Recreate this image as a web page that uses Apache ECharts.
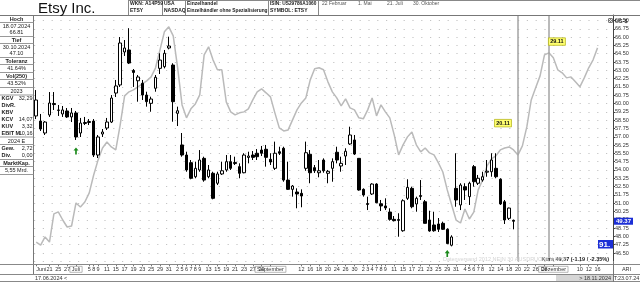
<!DOCTYPE html>
<html><head><meta charset="utf-8">
<script src="https://cdn.jsdelivr.net/npm/echarts@6/dist/echarts.min.js"></script>
<style>html,body{margin:0;padding:0;background:#fff}#c{width:640px;height:282px}</style>
</head><body><div id="c"></div>
<script>
// ---------- DATA ----------
const dates = [
 '17.06','18.06','20.06','21.06','24.06','25.06','26.06','27.06','28.06',
 '01.07','02.07','03.07','05.07','08.07','09.07','10.07','11.07','12.07','15.07','16.07','17.07','18.07','19.07','22.07','23.07','24.07','25.07','26.07','29.07','30.07','31.07',
 '01.08','02.08','05.08','06.08','07.08','08.08','09.08','12.08','13.08','14.08','15.08','16.08','19.08','20.08','21.08','22.08','23.08','26.08','27.08','28.08','29.08','30.08',
 '03.09','04.09','05.09','06.09','09.09','10.09','11.09','12.09','13.09','16.09','17.09','18.09','19.09','20.09','23.09','24.09','25.09','26.09','27.09','30.09',
 '01.10','02.10','03.10','04.10','07.10','08.10','09.10','10.10','11.10','14.10','15.10','16.10','17.10','18.10','21.10','22.10','23.10','24.10','25.10','28.10','29.10','30.10','31.10',
 '01.11','04.11','05.11','06.11','07.11','08.11','11.11','12.11','13.11','14.11','15.11','18.11','19.11',
 '20.11','21.11','22.11','25.11','26.11','27.11','28.11','29.11',
 '02.12','03.12','04.12','05.12','06.12','09.12','10.12','11.12','12.12','13.12','16.12','17.12','18.12','19.12'
];
const opens = [58.88,58.42,57.34,58.97,60.00,59.38,59.06,59.33,58.79,59.15,57.34,58.20,58.29,58.42,55.35,57.25,57.79,58.33,60.95,61.68,
 64.66,64.84,62.99,62.06,61.83,60.77,60.02,61.38,63.18,63.33,65.02,63.48,59.12,56.26,55.35,54.66,53.39,54.00,55.05,53.39,
 53.70,52.80,53.64,54.00,54.75,54.58,54.30,53.75,55.13,55.35,55.51,55.80,55.87,54.96,54.15,55.65,55.96,53.09,52.25,52.01,
 51.89,54.15,55.42,54.21,53.75,54.90,53.70,54.15,55.60,54.36,55.26,56.35,56.71,55.05,52.25,50.88,51.83,52.73,50.95,50.75,
 50.20,49.54,49.44,48.51,51.44,52.34,50.93,51.60,51.13,49.48,49.03,49.12,49.18,48.64,47.20,52.34,50.84,52.49,51.59,54.30,
 52.80,53.09,53.80,53.84,54.15,53.16,51.13,49.63,49.45];
const closes = [60.32,57.70,58.33,60.05,59.91,59.42,59.42,58.79,59.15,56.98,58.24,58.29,58.38,55.35,56.98,57.43,58.33,60.50,61.59,65.47,
 65.02,63.66,62.81,62.40,60.77,60.17,60.41,62.37,63.93,64.54,65.20,60.17,59.35,55.35,54.00,53.25,54.15,54.90,53.09,54.00,
 51.44,53.64,53.93,54.75,54.15,54.68,53.70,55.35,55.26,55.14,55.20,55.51,55.14,54.72,55.51,55.51,53.09,52.25,52.55,51.83,
 51.65,55.56,53.75,53.93,53.93,53.93,53.88,54.75,54.90,54.60,55.69,57.16,55.44,52.19,51.74,50.97,52.73,51.04,50.75,50.57,
 49.54,49.42,49.53,51.22,52.43,50.68,51.44,51.69,49.18,48.49,48.51,48.64,48.64,47.35,47.95,51.29,52.64,52.19,52.80,52.94,
 53.25,53.39,53.89,54.90,53.39,50.93,49.48,50.56,49.37];
const lows = [58.60,57.52,57.16,58.79,59.42,58.88,58.79,58.70,58.33,56.71,56.98,58.06,58.06,55.17,55.08,56.98,57.61,58.24,60.59,61.50,
 64.30,63.57,61.50,60.17,60.32,59.72,59.26,61.07,62.67,63.18,64.90,58.36,57.97,55.20,53.84,53.16,53.25,53.84,52.94,53.25,
 51.35,52.64,53.55,53.84,54.00,54.45,53.25,53.70,54.60,54.90,54.90,55.26,54.30,54.45,54.00,55.35,52.94,52.19,51.59,50.54,
 50.63,53.93,52.80,53.73,53.34,53.75,52.80,52.94,54.60,53.84,54.45,56.26,55.35,52.13,51.59,50.38,51.74,50.99,50.29,50.38,
 49.42,49.35,47.97,48.42,51.29,50.54,50.23,51.29,49.18,48.42,48.42,48.40,48.58,47.30,47.10,50.68,50.38,51.29,50.84,52.49,
 52.64,52.94,53.39,53.39,53.25,50.84,49.12,49.48,48.64];
const highs = [61.22,59.06,58.42,61.04,61.04,59.87,59.78,59.60,59.60,59.33,58.70,58.79,58.60,58.60,57.16,57.70,58.70,60.77,62.13,66.01,
 65.74,66.81,63.12,62.58,62.13,61.07,60.62,62.58,64.54,64.84,66.04,63.64,59.72,57.34,55.65,54.90,54.75,55.80,55.20,54.45,
 53.84,53.84,54.75,55.35,55.35,55.20,54.60,55.51,55.65,55.71,55.89,56.17,56.26,55.51,56.56,56.10,56.10,54.75,52.64,52.34,
 52.25,56.56,55.80,54.45,54.90,55.05,54.00,55.05,56.10,55.20,55.96,57.91,57.16,55.05,52.34,51.59,52.80,52.80,51.29,51.44,
 50.54,49.84,50.09,51.35,53.16,52.49,51.59,53.09,51.29,50.32,50.23,49.66,49.33,48.73,48.10,55.51,52.80,52.80,52.94,54.45,
 53.55,53.84,54.90,55.51,55.51,53.25,51.29,50.60,49.52];
const seasonal = [47.49,47.22,47.95,47.49,50.03,50.21,49.48,48.85,48.94,51.02,50.66,51.11,51.93,53.55,54.91,55.99,56.53,56.08,55.81,58.07,
 60.69,61.06,61.24,61.51,61.78,62.05,62.41,63.23,64.85,66.48,66.93,66.12,63.23,59.88,58.71,59.52,59.97,60.79,64.40,65.13,
 63.95,63.05,63.05,60.15,59.25,58.98,59.16,59.25,59.52,60.33,61.06,61.33,60.97,60.60,59.16,57.80,57.53,57.62,58.53,59.43,
 60.06,60.51,62.14,63.14,63.23,63.05,61.96,61.06,60.51,59.79,60.42,59.61,59.43,58.71,58.62,59.43,60.51,58.89,59.88,59.25,
 58.71,57.17,55.36,56.27,56.99,57.44,56.27,55.63,55.99,55.54,55.36,54.64,53.82,52.20,50.84,49.48,49.21,50.47,49.57,50.20,
 52.20,53.10,54.37,55.00,55.27,55.81,55.99,56.08,55.81,55.36,56.17,57.89,60.33,61.42,62.50,64.40,64.58,64.13,63.05,62.78,
 62.32,62.41,61.96,61.51,62.32,63.23,63.95,65.03];
const tickDates = ['17.06','21.06','25.06','27.06','01.07','05.07','08.07','09.07','11.07','15.07','17.07','19.07','23.07','25.07','29.07','31.07',
 '02.08','05.08','06.08','07.08','08.08','09.08','13.08','15.08','19.08','21.08','23.08','27.08','29.08','03.09','12.09','16.09','18.09','20.09',
 '24.09','26.09','30.09','02.10','03.10','04.10','07.10','08.10','09.10','11.10','15.10','17.10','21.10','23.10','25.10','29.10','31.10',
 '04.11','05.11','06.11','07.11','08.11','12.11','14.11','18.11','20.11','22.11','26.11','28.11','02.12','10.12','12.12','16.12'];
const tickTexts = ['Juni','21','25','27','Juli','5','8','9','11','15','17','19','23','25','29','31',
 '2','5','6','7','8','9','13','15','19','21','23','27','29','September','12','16','18','20',
 '24','26','30','2','3','4','7','8','9','11','15','17','21','23','25','29','31',
 '4','5','6','7','8','12','14','18','20','22','26','28','Dezember','10','12','16'];
const markerDates = ['20.11','29.11'];
const markerPrices = [58.23, 65.60];
const arrowDates = ['01.07','29.10'];
const arrowPrices = [55.72, 46.45];
const lastPrice = 49.37;

// ---------- CHART ----------
const FF = 'Liberation Sans, Arial, sans-serif';
const chart = echarts.init(document.getElementById('c'), null, {renderer:'canvas'});
const candleData = opens.map((o,i)=>[o, closes[i], lows[i], highs[i]]);
const xData = dates.map((d,i)=> i===0 ? {value:d, textStyle:{align:'left'}} : d);

function txt(x,y,text,o){o=o||{};return {type:'text',x:x,y:y,z:100,style:{text:text,fontSize:o.fs||5.5,fontFamily:FF,fontWeight:o.fw||'normal',fill:o.c||'#222',align:o.a||'left',verticalAlign:'middle'}};}
function ln(x1,y1,x2,y2,c,w){return {type:'line',z:90,shape:{x1:x1,y1:y1,x2:x2,y2:y2},style:{stroke:c||'#777',lineWidth:w||1}};}
function rc(x,y,w,h,f,s){return {type:'rect',z:80,shape:{x:x,y:y,width:w,height:h},style:{fill:f||'none',stroke:s||null,lineWidth:s?1:0}};}

const g = [];
// title + header
g.push(txt(38,8.5,'Etsy Inc.',{fs:15,c:'#111'}));
g.push(ln(128,0.5,640,0.5,'#888'));
[128.5,162.5,185.5,268.5,318.5].forEach(x=>g.push(ln(x,0,x,15,'#888')));
g.push(ln(0,15.5,640,15.5,'#777'));
const hb={fs:5,fw:'bold'};
g.push(txt(130,4,'WKN: A14P59',hb),txt(130,10.5,'ETSY',hb),txt(164,4,'USA',hb),txt(164,10.5,'NASDAQ',hb),
 txt(187,4,'Einzelhandel',hb),txt(187,10.5,'Einzelhändler ohne Spezialisierung',{fs:4.8,fw:'bold'}),
 txt(270,4,'ISIN: US29786A1060',{fs:4.8,fw:'bold'}),txt(270,10.5,'SYMBOL: ETSY',hb));
g.push(txt(322,4,'22 Februar',{fs:5,c:'#555'}),txt(358,4,'1. Mai',{fs:5,c:'#555'}),txt(387,4,'21. Juli',{fs:5,c:'#555'}),txt(413,4,'30. Oktober',{fs:5,c:'#555'}));
// left panel
g.push(ln(33.5,15,33.5,274,'#777'));
[22.5,36.5,43.5,57.5,64.5,72.5,79.5,87.5,95,137,144.5,159.5,166.5,174.5].forEach(y=>g.push(ln(0,y,33.5,y,'#999')));
const cb={a:'center',fw:'bold'};
g.push(txt(16.5,19,'Hoch',cb),txt(16.5,26,'18.07.2024',{a:'center'}),txt(16.5,32.5,'66.81',{a:'center'}),
 txt(16.5,40,'Tief',cb),txt(16.5,47,'30.10.2024',{a:'center'}),txt(16.5,53.5,'47.10',{a:'center'}),
 txt(16.5,61,'Toleranz',cb),txt(16.5,68.5,'41.64%',{a:'center'}),
 txt(16.5,76,'Vol(250)',cb),txt(16.5,83.5,'43.52%',{a:'center'}),
 txt(16.5,91.5,'2023',{a:'center'}));
const rows=[['KGV','32,29',98.5],['DivR.','',105.5],['KBV','',112.5],['KCV','14,07',119.5],['KUV','3,32',126.5],['EBIT M.','10,16',133]];
rows.forEach(r=>{g.push(txt(1.5,r[2],r[0],{fw:'bold'}));if(r[1])g.push(txt(32.5,r[2],r[1],{a:'right'}));});
g.push(txt(16.5,141,'2024 E',{a:'center'}));
[['Gew.','2,72',148.5],['Div.','0,00',155.5]].forEach(r=>{g.push(txt(1.5,r[2],r[0],{fw:'bold'}),txt(32.5,r[2],r[1],{a:'right'}));});
g.push(txt(16.5,163,'MarktKap.',cb),txt(16.5,170.5,'5,55 Mrd.',{a:'center'}));
// right top
g.push(rc(608,18,5,5,'#777'),ln(608.5,18.5,612.5,22.5,'#eee'),ln(612.5,18.5,608.5,22.5,'#eee'));
g.push(txt(615,21,'US-$',{fw:'bold'}));
// bottom area
g.push(ln(0,264.5,640,264.5,'#888'),ln(0,274.5,640,274.5,'#888'),ln(0,281.5,640,281.5,'#888'));
g.push(ln(613.5,262,613.5,282,'#777'));
g.push(txt(35,278,'17.06.2024 <',{c:'#333'}));
g.push(rc(556,275,57,6,'#d6d6d6'),txt(611,278,'> 18.11.2024',{a:'right',c:'#333'}));
g.push(txt(626.5,269.5,'ARI',{a:'center',c:'#333'}),txt(626.5,278,'T:23.07.24',{a:'center',c:'#333'}));
g.push(txt(609,259.5,'Kurs 49.37 (-1.19 / -2.35%)',{a:'right',fw:'bold'}));
g.push(txt(443,259.5,'Datenversand 2012 NEIN 30 AUSDRUCKEN 8733',{c:'#d4d4d4'}));
g.push(rc(598,240,15,8.5,'#1c2fd6'),txt(599,244.5,'91.',{fs:8,fw:'bold',c:'#fff'}));

const option = {
 animation:false,
 textStyle:{fontFamily:FF},
 grid:{left:34,right:27,top:15,bottom:20.7,show:false},
 xAxis:{type:'category',data:xData,boundaryGap:true,offset:3,
  axisLine:{show:false},
  axisTick:{show:true,alignWithLabel:true,length:2,interval:(i,v)=>tickDates.indexOf(v)>=0,lineStyle:{color:'#777'}},
  axisLabel:{interval:(i,v)=>tickDates.indexOf(v)>=0,fontSize:5.5,color:'#333',margin:2,hideOverlap:false,showMinLabel:true,
   formatter:(v,i)=>{const k=tickDates.indexOf(v);if(k<0)return '';const t=tickTexts[k];
     if(k===0)return t;
     return /^[A-Z]/.test(t)?'{m|'+t+'}':t;},
   rich:{m:{fontSize:5.5,color:'#333',borderColor:'#888',borderWidth:0.6,padding:[0,2,0,2]}}},
  splitLine:{show:false}},
 yAxis:{type:'value',position:'right',min:45.75,max:68,interval:0.75,
  axisLine:{show:true,lineStyle:{color:'#444',width:1}},
  axisTick:{show:true,length:2,lineStyle:{color:'#444'}},
  axisLabel:{fontSize:5.5,color:'#333',margin:2,showMinLabel:false,showMaxLabel:false,formatter:v=>v.toFixed(2)},
  splitLine:{show:true,lineStyle:{color:'#c4c4c4',width:1,type:[1.2,7.6]}}},
 series:[
  {type:'line',data:seasonal,symbol:'none',z:1,lineStyle:{color:'#bababa',width:1.5},
   markLine:{silent:true,symbol:'none',label:{show:false},lineStyle:{color:'#a3a3a3',width:1.5,type:'solid'},
    data:markerDates.map(d=>({xAxis:d}))},
   markPoint:{silent:true,symbol:'rect',symbolSize:[17,7.5],
    itemStyle:{color:'#ffff70',borderColor:'#a8a800',borderWidth:0.6},
    label:{show:true,formatter:'{b}',fontSize:5.5,fontWeight:'bold',color:'#111'},
    data:markerDates.map((d,i)=>({name:d,coord:[d,markerPrices[i]],symbolOffset:[i===0?-15:8,0]}))}},
  {type:'candlestick',data:candleData,barWidth:3,z:3,
   itemStyle:{color:'#ffffff',color0:'#000000',borderColor:'#000000',borderColor0:'#000000',borderWidth:1},
   markPoint:{silent:true,symbol:'path://M3,0 L6,4 L4,4 L4,9 L2,9 L2,4 L0,4 Z',symbolSize:[5,7],
    itemStyle:{color:'#1c8a1c'},label:{show:false},
    data:arrowDates.map((d,i)=>({coord:[d,arrowPrices[i]]}))},
   markLine:{silent:true,symbol:'none',lineStyle:{color:'rgba(0,0,0,0)',width:0.1,type:'solid'},
    label:{show:true,position:'end',distance:1,formatter:lastPrice.toFixed(2),backgroundColor:'#1c2fd6',color:'#fff',fontSize:6,fontWeight:'bold',padding:[1,2,0,2]},
    emphasis:{disabled:true},
    data:[{yAxis:lastPrice}]}}
 ],
 graphic:g
};
chart.setOption(option);
</script></body></html>
